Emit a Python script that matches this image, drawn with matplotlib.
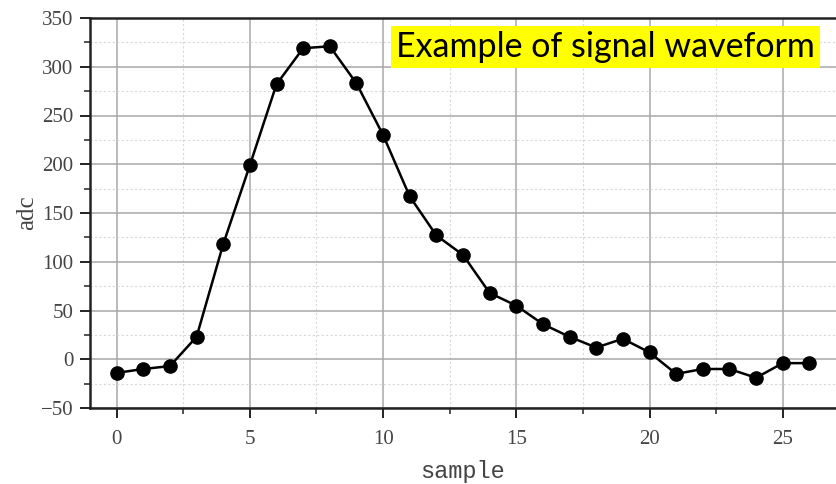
import matplotlib
matplotlib.use("Agg")
import matplotlib.pyplot as plt
from matplotlib.ticker import MultipleLocator

samples = list(range(27))
adc = [-14, -10, -7, 23, 118, 199, 282, 319, 321, 283, 230, 167, 127, 107,
       68, 55, 36, 23, 12, 21, 7, -15, -10, -10, -19, -4, -4]
x_ticks = [0, 5, 10, 15, 20, 25]
y_ticks = [-50, 0, 50, 100, 150, 200, 250, 300, 350]
title_text = "Example of signal waveform"

fig = plt.figure(figsize=(8.36, 4.84), dpi=100)
ax = fig.add_axes([90/836, 1-408/484, 1-90/836, (408-18)/484])

serif = ["Liberation Serif", "DejaVu Serif"]

ax.plot(samples, adc, color="black", lw=1.8, marker="o", ms=9.5, zorder=3)

ax.set_xlim(-1, 27)
ax.set_ylim(-50, 350)
ax.set_xticks(x_ticks)
ax.set_yticks(y_ticks)
ax.xaxis.set_minor_locator(MultipleLocator(2.5))
ax.yaxis.set_minor_locator(MultipleLocator(25))

ax.grid(which="major", color="#a8a8a8", lw=1.1)
ax.grid(which="minor", color="#d8d8d8", lw=0.8, ls=(0, (2, 2)))
ax.set_axisbelow(True)

for s in ["left", "bottom", "top"]:
    ax.spines[s].set_linewidth(1.8)
    ax.spines[s].set_color("#222222")
ax.spines["right"].set_visible(False)

ax.tick_params(which="major", direction="out", length=7, width=1.4, colors="#222222")
ax.tick_params(which="minor", direction="out", length=4, width=1.1, colors="#222222")
ax.tick_params(axis="both", labelsize=15, labelcolor="#444444")
ax.tick_params(axis="x", pad=9)
ax.tick_params(axis="y", pad=5)
for lab in ax.get_xticklabels() + ax.get_yticklabels():
    lab.set_family(serif)

ax.set_xlabel("sample", fontsize=17, family=["Liberation Mono", "DejaVu Sans Mono"],
              color="#444444", labelpad=8)
ax.set_ylabel("adc", fontsize=18, family=serif, color="#444444", labelpad=2)

fig.text(815/836, 1-47/484, title_text, ha="right", va="center",
         fontsize=24.5, family=["Lato", "DejaVu Sans"], color="black",
         bbox=dict(boxstyle="square,pad=0.16", fc="#ffff00", ec="none"), zorder=5)

fig.savefig("out.png", dpi=100)
